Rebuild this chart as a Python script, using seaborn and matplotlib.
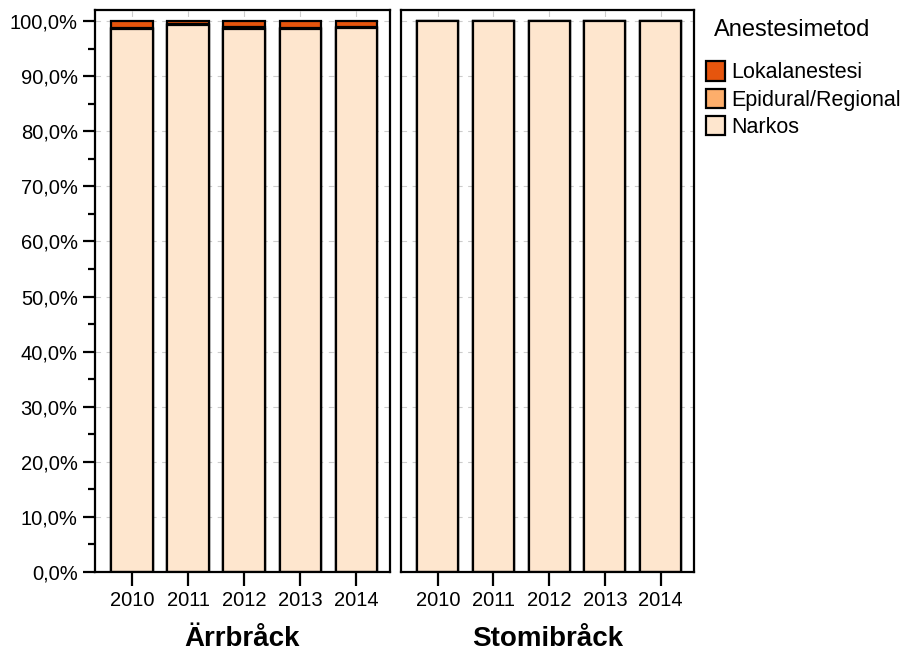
import matplotlib
matplotlib.use("Agg")
import matplotlib.pyplot as plt
import seaborn as sns
import numpy as np
import pandas as pd
from matplotlib.patches import Patch
from matplotlib.ticker import MultipleLocator, FuncFormatter

years = ["2010", "2011", "2012", "2013", "2014"]
groups = ["Ärrbråck", "Stomibråck"]
methods = ["Lokalanestesi", "Epidural/Regional", "Narkos"]
colors = ["#E6550D", "#FDAE6B", "#FEE6CE"]

narkos_arr = [98.5, 99.3, 98.6, 98.5, 98.7]
epidural_arr = [0.2, 0.2, 0.3, 0.3, 0.2]
lokal_arr = [1.3, 0.5, 1.1, 1.2, 1.1]

narkos_sto = [100.0, 100.0, 100.0, 100.0, 100.0]
epidural_sto = [0.0, 0.0, 0.0, 0.0, 0.0]
lokal_sto = [0.0, 0.0, 0.0, 0.0, 0.0]

data = {
    "Ärrbråck": (lokal_arr, epidural_arr, narkos_arr),
    "Stomibråck": (lokal_sto, epidural_sto, narkos_sto),
}

sns.set_style("white")
plt.rcParams["font.family"] = ["Liberation Sans", "DejaVu Sans"]
plt.rcParams["text.color"] = "black"
plt.rcParams["axes.labelcolor"] = "black"
plt.rcParams["xtick.color"] = "black"
plt.rcParams["ytick.color"] = "black"

fig = plt.figure(figsize=(9.03, 6.53), dpi=100)
W, H = 903, 653
ax1 = fig.add_axes([95 / W, 1 - 572 / H, 295 / W, 562 / H])
ax2 = fig.add_axes([401 / W, 1 - 572 / H, 293 / W, 562 / H])

for ax, g in zip([ax1, ax2], groups):
    lok, epi, nar = data[g]
    nar = np.array(nar) / 100
    epi = np.array(epi) / 100
    lok = np.array(lok) / 100
    tops = [nar + epi + lok, nar + epi, nar]
    for vals, c in zip(tops, colors):
        df = pd.DataFrame({"year": years, "val": vals})
        sns.barplot(data=df, x="year", y="val", color=c, ax=ax, width=0.74,
                    edgecolor="black", linewidth=1.6, saturation=1, zorder=2)
    ax.set_xlim(-0.66, 4.6)
    ax.set_ylim(0, 1.02)
    ax.yaxis.set_major_locator(MultipleLocator(0.1))
    ax.yaxis.set_minor_locator(MultipleLocator(0.05))
    ax.grid(True, axis="both", linestyle=(0, (5, 5)), color="#cccccc", linewidth=0.8, zorder=0)
    ax.set_axisbelow(True)
    for s in ax.spines.values():
        s.set_color("black")
        s.set_linewidth(1.6)
    ax.set_xlabel(g, fontsize=20, fontweight="bold", labelpad=11, color="black")
    ax.set_ylabel("")
    ax.tick_params(axis="x", which="major", direction="out", length=10, width=1.6,
                   labelsize=14.5, bottom=True, pad=4, labelcolor="black")

ax1.yaxis.set_major_formatter(FuncFormatter(lambda v, p: f"{v*100:.1f}%".replace(".", ",")))
ax1.tick_params(axis="y", which="major", direction="out", length=9, width=1.6, labelsize=14.5,
                left=True, labelcolor="black")
ax1.tick_params(axis="y", which="minor", direction="out", length=5, width=1.6, left=True)
ax2.tick_params(axis="y", which="both", left=False, labelleft=False)

fig.text(714 / W, 1 - 30 / H, "Anestesimetod", fontsize=17, va="center", ha="left", color="black")
handles = [Patch(facecolor=c, edgecolor="black", linewidth=1.6, label=m) for m, c in zip(methods, colors)]
fig.legend(handles=handles, loc="upper left",
           bbox_to_anchor=(687 / W, 1 - 42 / H), frameon=False, fontsize=15.5,
           handlelength=0.85, handleheight=1.0, handletextpad=0.3,
           labelspacing=0.25, labelcolor="black")

fig.savefig("out.png", dpi=100)
